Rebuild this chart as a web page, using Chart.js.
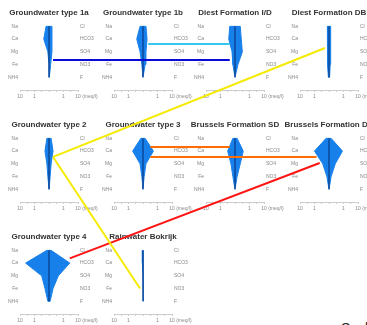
<!DOCTYPE html>
<html>
<head>
<meta charset="utf-8">
<script src="https://cdn.jsdelivr.net/npm/chart.js@4.4.1/dist/chart.umd.min.js"></script>
<style>
  html, body { margin: 0; padding: 0; background: #fff; }
  #wrap { position: relative; width: 367px; height: 325px; overflow: hidden; background: #fff; }
  #wrap canvas { position: absolute; }
  #scaleNote { position: absolute; left: 341px; top: 320px; font: 14px 'Liberation Sans', Arial, sans-serif; color: #222; white-space: nowrap; }
</style>
</head>
<body>
<div id="wrap"><div id="scaleNote">Scale</div></div>
<script>
// Stiff diagrams: cations to the left, anions to the right, log scale in meq/l
const panelNames = [
  'Groundwater type 1a', 'Groundwater type 1b', 'Diest Formation I/D', 'Diest Formation DB',
  'Groundwater type 2', 'Groundwater type 3', 'Brussels Formation SD', 'Brussels Formation DB',
  'Groundwater type 4', 'Rainwater Bokrijk'
];
const cations = ['Na', 'Ca', 'Mg', 'Fe', 'NH4'];
const anions = ['Cl', 'HCO3', 'SO4', 'NO3', 'F'];
const xTickValues = [-2, -1, 1, 2];
const xTickLabels = ['10', '1', '1', '10 (meq/l)'];

// concentrations (meq/l), one value per row
const type1aCations = [0.16, 0.23, 0.12, 0.10, 0.10];
const type1aAnions  = [0.16, 0.16, 0.16, 0.13, 0.11];
const type1bCations = [0.16, 0.27, 0.16, 0.12, 0.10];
const type1bAnions  = [0.16, 0.19, 0.16, 0.14, 0.11];
const diestIDCations = [0.23, 0.27, 0.16, 0.14, 0.10];
const diestIDAnions  = [0.23, 0.27, 0.32, 0.16, 0.11];
const diestDBCations = [0.13, 0.13, 0.13, 0.12, 0.11];
const diestDBAnions  = [0.13, 0.13, 0.13, 0.12, 0.11];
const type2Cations = [0.14, 0.19, 0.14, 0.12, 0.10];
const type2Anions  = [0.14, 0.19, 0.14, 0.12, 0.10];
const type3Cations = [0.14, 0.52, 0.16, 0.12, 0.10];
const type3Anions  = [0.14, 0.52, 0.16, 0.12, 0.10];
const brusselsSDCations = [0.14, 0.32, 0.19, 0.14, 0.10];
const brusselsSDAnions  = [0.14, 0.37, 0.23, 0.14, 0.11];
const brusselsDBCations = [0.16, 1.00, 0.27, 0.14, 0.10];
const brusselsDBAnions  = [0.14, 0.85, 0.27, 0.14, 0.11];
const type4Cations = [0.14, 4.10, 0.32, 0.19, 0.12];
const type4Anions  = [0.14, 2.70, 0.44, 0.19, 0.12];
const rainCations = [0.11, 0.11, 0.10, 0.10, 0.10];
const rainAnions  = [0.11, 0.11, 0.11, 0.10, 0.10];

const panelCations = [type1aCations, type1bCations, diestIDCations, diestDBCations,
  type2Cations, type3Cations, brusselsSDCations, brusselsDBCations, type4Cations, rainCations];
const panelAnions = [type1aAnions, type1bAnions, diestIDAnions, diestDBAnions,
  type2Anions, type3Anions, brusselsSDAnions, brusselsDBAnions, type4Anions, rainAnions];

// links between related diagrams: [panel, side (-1 cation / +1 anion), row, meq/l]
const linkColors = ['#0a0ad8', '#35c6ee', '#f5ea00', '#f5ea00', '#ff6d00', '#ff6d00', '#ff1414'];
const linkStarts = [[0, 1, 3.65, 0.19], [1, 1, 2.38, 0.23], [3, -1, 2.7, 0.19], [4, 1, 2.46, 0.19],
                    [5, 1, 1.67, 0.32], [5, 1, 2.46, 0.32], [7, -1, 2.94, 0.44]];
const linkEnds   = [[2, -1, 3.65, 0.23], [2, -1, 2.38, 0.23], [4, 1, 2.46, 0.19], [9, -1, 4.0, 0.16],
                    [6, -1, 1.67, 0.23], [7, -1, 2.46, 0.72], [8, 1, 1.63, 2.7]];

const FONT = "'Liberation Sans', Arial, sans-serif";
const FLOOR = 0.1;            // concentration at the centre line
const FILL = '#1780ea';
const W = 367, H = 325;
const PANEL_W = 98, PANEL_H = 111;
const colLeft = [0, 94, 186, 280];
const rowTop = [0, 112, 224];

function xOf(v) { return Math.log10(Math.max(v, FLOOR) / FLOOR); }

function outline(cat, an) {
  const pts = [];
  cat.forEach((v, i) => pts.push({ x: -xOf(v), y: i + 1 }));
  for (let i = an.length - 1; i >= 0; i--) pts.push({ x: xOf(an[i]), y: i + 1 });
  pts.push(pts[0]);
  return pts;
}

const xLabelPlugin = {
  id: 'xLabels',
  afterDraw(chart) {
    const s = chart.scales.x, ctx = chart.ctx;
    ctx.save();
    ctx.font = '5px ' + FONT;
    ctx.fillStyle = '#888';
    ctx.textBaseline = 'middle';
    ctx.textAlign = 'left';
    xTickValues.forEach((v, i) => {
      const lab = xTickLabels[i];
      const w = ctx.measureText(lab.split(' ')[0]).width;
      ctx.fillText(lab, s.getPixelForValue(v) - w / 2, s.top + 7);
    });
    ctx.restore();
  }
};

function yAxis(names, position) {
  return {
    type: 'linear', position, reverse: true, min: 0.5, max: 6,
    grid: { display: false, drawTicks: false }, border: { display: false },
    afterBuildTicks(s) { s.ticks = names.map((_, i) => ({ value: i + 1 })); },
    ticks: { callback: (v) => names[v - 1] ?? '', font: { family: FONT, size: 5 }, color: '#888', padding: 2 },
    afterFit(s) { s.width = 20; }
  };
}

const wrap = document.getElementById('wrap');
const panels = [];

panelNames.forEach((name, p) => {
  const cv = document.createElement('canvas');
  cv.width = PANEL_W; cv.height = PANEL_H;
  const left = colLeft[p % 4], top = rowTop[Math.floor(p / 4)];
  cv.style.left = left + 'px'; cv.style.top = top + 'px';
  cv.style.width = PANEL_W + 'px'; cv.style.height = PANEL_H + 'px';
  wrap.appendChild(cv);
  const chart = new Chart(cv, {
    type: 'scatter',
    data: {
      datasets: [
        { data: outline(panelCations[p], panelAnions[p]), showLine: true, fill: 'shape',
          backgroundColor: FILL, borderColor: FILL, borderWidth: 1, pointRadius: 0, tension: 0, order: 2 },
        { data: [{ x: 0, y: 1 }, { x: 0, y: 5 }], showLine: true, borderColor: 'rgba(10,50,120,0.45)',
          borderWidth: 1, pointRadius: 0, order: 1 }
      ]
    },
    options: {
      responsive: false, animation: false, events: [],
      layout: { padding: 0 },
      plugins: {
        legend: { display: false }, tooltip: { enabled: false },
        title: { display: true, text: name, color: '#333',
                 font: { family: FONT, size: 8, weight: 'bold' }, padding: { top: 8, bottom: 2.4 } }
      },
      scales: {
        x: { type: 'linear', min: -2, max: 2,
             ticks: { display: false, stepSize: 0.5 },
             grid: { drawOnChartArea: false, drawTicks: true, tickLength: 2, color: '#cccccc' },
             border: { display: true, color: '#cccccc' },
             afterFit(s) { s.height = 21; } },
        y: yAxis(cations, 'left'),
        y2: yAxis(anions, 'right')
      }
    },
    plugins: [xLabelPlugin]
  });
  panels.push({ chart, left, top });
});

// connecting lines drawn on a full-size overlay chart
function endPoint(e) {
  const [p, side, row, v] = e;
  const { chart, left, top } = panels[p];
  return { x: left + chart.scales.x.getPixelForValue(side * xOf(v)),
           y: top + chart.scales.y.getPixelForValue(row) };
}

const ov = document.createElement('canvas');
ov.width = W; ov.height = H;
ov.style.left = '0px'; ov.style.top = '0px';
ov.style.width = W + 'px'; ov.style.height = H + 'px';
wrap.appendChild(ov);
new Chart(ov, {
  type: 'scatter',
  data: {
    datasets: linkColors.map((c, i) => ({
      data: [endPoint(linkStarts[i]), endPoint(linkEnds[i])],
      showLine: true, borderColor: c, borderWidth: 2, pointRadius: 0
    }))
  },
  options: {
    responsive: false, animation: false, events: [],
    layout: { padding: 0 },
    plugins: { legend: { display: false }, tooltip: { enabled: false } },
    scales: {
      x: { display: false, min: 0, max: W },
      y: { display: false, min: 0, max: H, reverse: true }
    }
  }
});
</script>
</body>
</html>
